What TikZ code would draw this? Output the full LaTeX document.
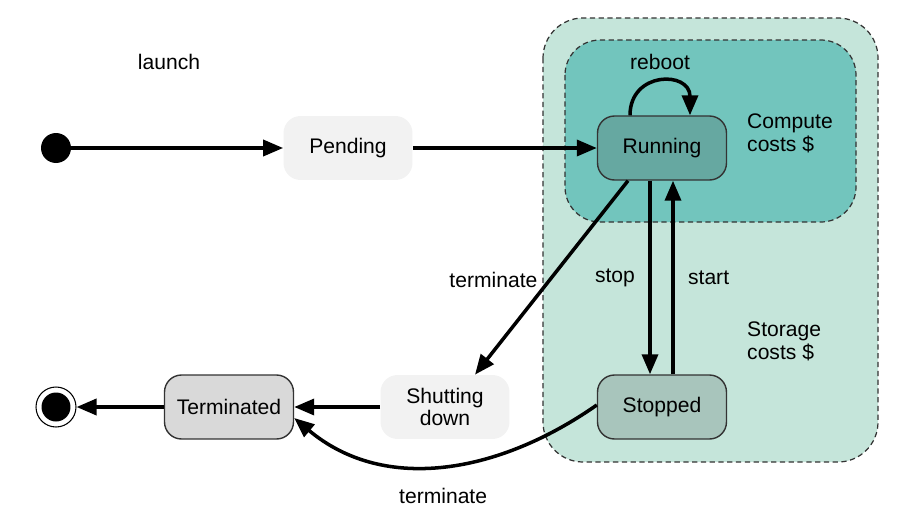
\documentclass[tikz,border=0pt]{standalone}
\usepackage{fontspec}
\setmainfont{Liberation Sans}
\usetikzlibrary{arrows.meta,positioning}
\definecolor{ec2outer}{HTML}{C5E5DA}
\definecolor{ec2inner}{HTML}{72C5BD}
\definecolor{ec2run}{HTML}{66A8A1}
\definecolor{ec2stop}{HTML}{A8C5BC}
\definecolor{ec2term}{HTML}{D9D9D9}
\definecolor{ec2soft}{HTML}{F2F2F2}
\definecolor{ec2line}{HTML}{333333}

\begin{document}
\begin{tikzpicture}[
  x=0.02cm, y=-0.02cm,
  font=\fontsize{12}{13}\selectfont,
  state/.style={rectangle, rounded corners=0.34cm, fill=ec2soft,
    minimum width=2.58cm, minimum height=1.28cm, align=center, inner sep=2pt},
  boxed/.style={state, draw=ec2line, line width=0.8pt},
  region/.style={draw=ec2line, line width=0.7pt, dash pattern=on 3pt off 2pt},
  arr/.style={-{Triangle[length=4mm,width=3.2mm]}, line width=2pt, black},
  note/.style={align=left, anchor=west},
]
  \useasboundingbox (0,0) rectangle (920,514);

  % cost regions
  \draw[region, fill=ec2outer, rounded corners=0.8cm] (543,18) rectangle (878,462);
  \draw[region, fill=ec2inner, rounded corners=0.7cm] (565,40) rectangle (856,222);

  % states
  \node[circle, fill=black, minimum size=0.6cm, inner sep=0pt] (init) at (56,148) {};
  \node[state] (pend) at (348,148) {Pending};
  \node[boxed, fill=ec2run] (run) at (662,148) {Running};
  \node[boxed, fill=ec2stop] (stop) at (662,407) {Stopped};
  \node[state] (shut) at (445,407) {Shutting\\down};
  \node[boxed, fill=ec2term] (term) at (229,407) {Terminated};
  \node[circle, draw=black, line width=0.6pt, minimum size=0.8cm, inner sep=0pt] (final) at (56,407) {};
  \fill[black] (final.center) circle (0.29cm);

  % notes
  \node (launch) at (169,62) {launch};
  \node[note] (compute) at (741,133) {Compute\\costs \$};
  \node[note] (storage) at (741,341) {Storage\\costs \$};

  % transitions
  \draw[arr] (init) -- (pend);
  \draw[arr] (pend) -- (run);
  \draw[arr] ([xshift=-0.64cm]run.north) to[out=90, in=90, looseness=1.9]
    node[above=0.1cm] {reboot} ([xshift=0.56cm]run.north);
  \draw[arr] ([xshift=-0.68cm]run.south) -- node[pos=0.51, left=0.1cm] {terminate} ([xshift=0.6cm]shut.north);
  \draw[arr] ([xshift=-0.24cm]run.south) -- node[left=0.15cm] {stop} ([xshift=-0.24cm]stop.north);
  \draw[arr] ([xshift=0.22cm]stop.north) -- node[right=0.15cm] {start} ([xshift=0.22cm]run.south);
  \draw[arr] (shut) -- (term);
  \draw[arr] (term) -- (final);
  \draw[arr] ([yshift=0.04cm]stop.west) to[out=215, in=-40, looseness=1]
    node[below=0.3cm] {terminate} ([yshift=-0.22cm]term.east);
\end{tikzpicture}
\end{document}
